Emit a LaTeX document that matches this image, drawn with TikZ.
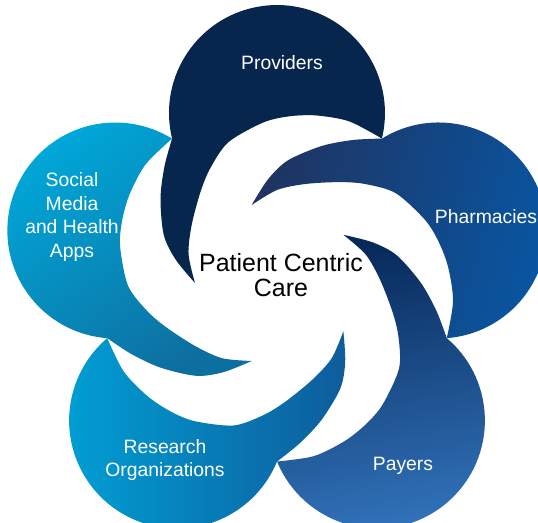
\documentclass[tikz,border=0pt]{standalone}
\usepackage{fontspec}
\setmainfont{Liberation Sans}
\usetikzlibrary{positioning}
\definecolor{navy900}{HTML}{06264E}
\definecolor{navy700}{HTML}{1F3461}
\definecolor{blue700}{HTML}{0856A3}
\definecolor{navy800}{HTML}{07295A}
\definecolor{blue600}{HTML}{1E64B0}
\definecolor{blue500}{HTML}{3274BC}
\definecolor{cyan500}{HTML}{00A1D6}
\definecolor{sky500}{HTML}{2A86C6}
\definecolor{blue800}{HTML}{0E5C9C}
\definecolor{cyan400}{HTML}{00A7D8}
\definecolor{sky400}{HTML}{26A8E0}
\definecolor{teal700}{HTML}{0D6FA0}

\begin{document}
\begin{tikzpicture}[x=0.02cm, y=0.02cm]
  % Styles
  \tikzset{
    petal/.style={draw=none},
    providers/.style={petal, fill=navy900},
    pharmacies/.style={petal, top color=navy700, bottom color=blue700, shading angle=75},
    payers/.style={petal, top color=navy800, middle color=blue600, bottom color=blue500, shading angle=10},
    research/.style={petal, left color=cyan500, middle color=sky500, right color=blue800},
    social/.style={petal, top color=cyan400, middle color=sky400, bottom color=teal700, shading angle=35},
    petaltext/.style={text=white, align=center, font=\fontsize{11}{13.3}\selectfont},
    hub/.style={text=black, align=center, font=\fontsize{14.2}{13.8}\selectfont},
  }

  \useasboundingbox (-277,-239) rectangle (261,283);

  % Petals (blob + curled tail), one every 72 degrees
  \foreach \a/\kind in {90/providers, 18/pharmacies, -54/payers, -126/research, 162/social}{
    \path[\kind] (\a+36:178.5)
      arc[start angle=\a+103.7, end angle=\a-103.7, radius=2.16cm]
      -- plot[smooth] coordinates {(\a-36:178.5) (\a-24:177) (\a-13:172) (\a-4:167) (\a+5:161)
           (\a+19:149) (\a+30:133) (\a+40:119) (\a+56:103) (\a+72:93) (\a+90:82)}
      -- plot[smooth] coordinates {(\a+90:82) (\a+77:104) (\a+67:123) (\a+54:144) (\a+44:162) (\a+36:178.5)}
      -- cycle;
  }

  % Labels
  \node[hub] (care) at (4,8) {Patient Centric\\Care};
  \node[petaltext] (prov) at (5,220) {Providers};
  \node[petaltext] (pharm) at (209,66) {Pharmacies};
  \node[petaltext] (pay) at (126,-183) {Payers};
  \node[petaltext] (res) at (-112,-177) {Research\\Organizations};
  \node[petaltext] (soc) at (-205,66) {Social\\Media\\and Health\\Apps};
\end{tikzpicture}
\end{document}
